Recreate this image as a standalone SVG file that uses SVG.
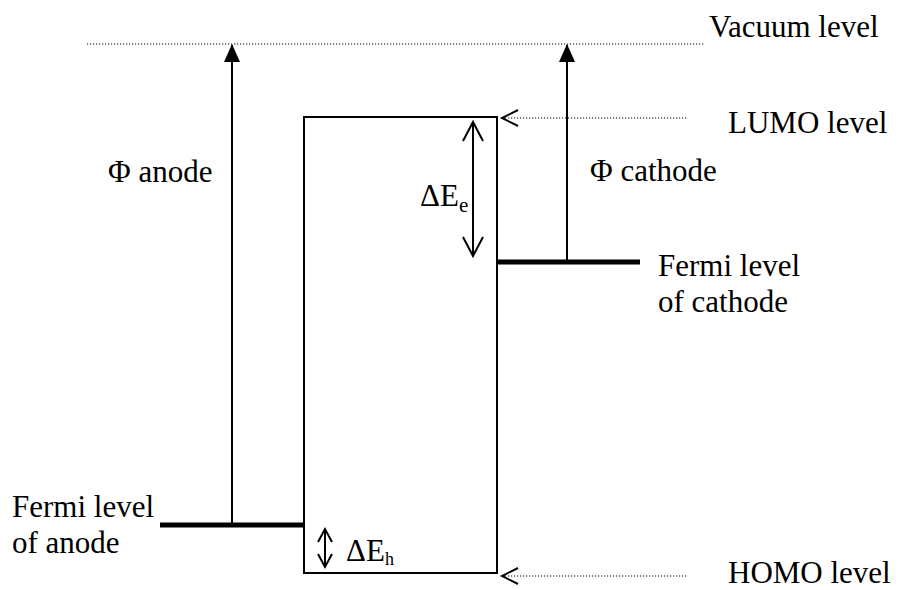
<svg xmlns="http://www.w3.org/2000/svg" width="901" height="590" viewBox="0 0 901 590" font-family="'Liberation Serif', 'Times New Roman', serif">
<style>
text{font-family:'Liberation Serif','Times New Roman',serif;font-size:31px;fill:#000}
.dot{stroke:#000;stroke-width:1;stroke-dasharray:1.2,1.8;fill:none}
.thin{stroke:#000;stroke-width:2;fill:none}
.thick{stroke:#000;stroke-width:5;fill:none}
.open{stroke:#000;stroke-width:2;fill:none}
</style>
<defs>
<marker id="fill" markerWidth="18" markerHeight="16" refX="17" refY="8" orient="auto" markerUnits="userSpaceOnUse" viewBox="0 0 18 16">
<path d="M0,0 L18,8 L0,16 Z" fill="#000"/>
</marker>
</defs>
<rect width="901" height="590" fill="#fff"/>
<g id="vacuum">
<line class="dot" x1="87" y1="44" x2="705" y2="44"/>
<text x="709" y="37">Vacuum level</text>
</g>
<g id="organic-layer">
<rect x="304" y="117" width="193" height="456" class="thin"/>
</g>
<g id="lumo">
<text x="728" y="133">LUMO level</text>
</g>
<g id="homo">
<text x="728" y="583">HOMO level</text>
</g>
<g id="fermi-cathode">
<line class="thick" x1="497" y1="262" x2="640" y2="262"/>
<text x="658" y="276">Fermi level</text>
<text x="658" y="312">of cathode</text>
</g>
<g id="fermi-anode">
<line class="thick" x1="160" y1="525" x2="304" y2="525"/>
<text x="12" y="517">Fermi level</text>
<text x="12" y="553">of anode</text>
</g>
<g id="labels">
<text x="108" y="182">Φ anode</text>
<text x="590" y="181">Φ cathode</text>
<text x="420" y="206">ΔE<tspan font-size="21" dy="6">e</tspan></text>
<text x="346" y="561" font-size="25">ΔE<tspan font-size="18" dy="4">h</tspan></text>
</g>
<g id="connectors">
<line class="thin" x1="232" y1="525" x2="232" y2="45" marker-end="url(#fill)"/>
<line class="thin" x1="567" y1="262" x2="567" y2="45" marker-end="url(#fill)"/>
<line class="open" x1="473" y1="122" x2="473" y2="256"/>
<path class="open" d="M463,141 L473,122 L483,141 M463,237 L473,256 L483,237"/>
<line class="open" x1="325" y1="529" x2="325" y2="567"/>
<path class="open" d="M318,542 L325,529 L332,542 M318,554 L325,567 L332,554"/>
<line class="dot" x1="502" y1="118" x2="688" y2="118"/>
<path class="open" d="M518,110 L502,118 L518,126" stroke-width="1.5"/>
<line class="dot" x1="502" y1="576" x2="688" y2="576"/>
<path class="open" d="M518,568 L502,576 L518,584" stroke-width="1.5"/>
</g>
</svg>
